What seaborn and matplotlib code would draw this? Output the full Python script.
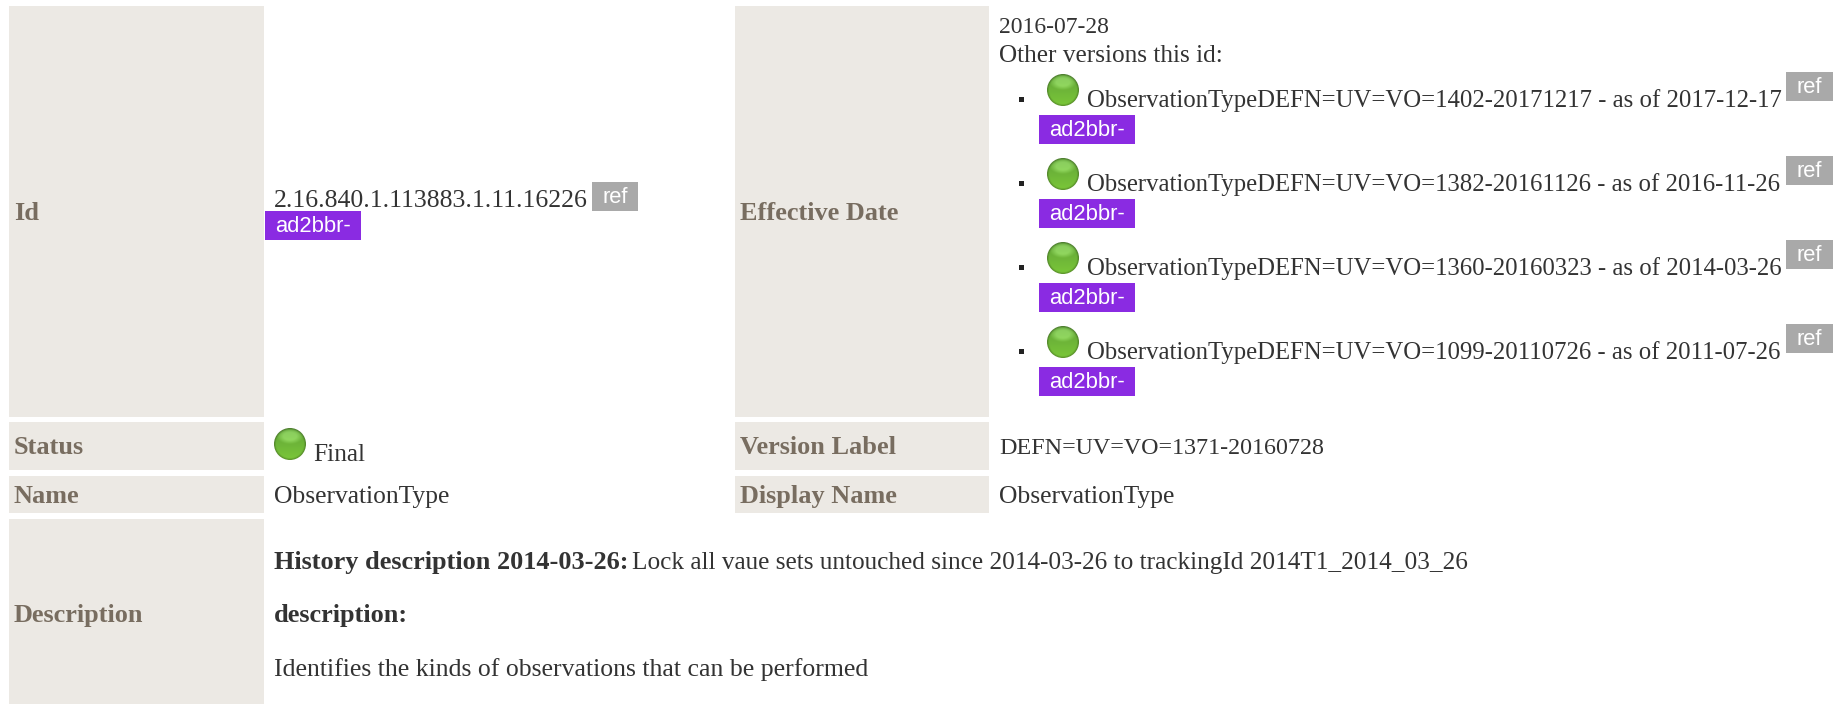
import numpy as np
import seaborn as sns
import matplotlib
matplotlib.use("Agg")
import matplotlib.pyplot as plt
from matplotlib.patches import Rectangle, Circle

sns.set_theme(style="white")
SERIF = ["Liberation Serif", "DejaVu Serif"]
plt.rcParams["font.family"] = SERIF

row_labels_left = ["Id", "Status", "Name", "Description"]
row_labels_right = ["Effective Date", "Version Label", "Display Name"]
id_value = "2.16.840.1.113883.1.11.16226"
effective_date = "2016-07-28"
other_versions_title = "Other versions this id:"
other_versions = [
    "ObservationTypeDEFN=UV=VO=1402-20171217 - as of 2017-12-17",
    "ObservationTypeDEFN=UV=VO=1382-20161126 - as of 2016-11-26",
    "ObservationTypeDEFN=UV=VO=1360-20160323 - as of 2014-03-26",
    "ObservationTypeDEFN=UV=VO=1099-20110726 - as of 2011-07-26",
]
status_value = "Final"
version_label = "DEFN=UV=VO=1371-20160728"
name_value = "ObservationType"
display_name = "ObservationType"
history_head = "History description 2014-03-26:"
history_text = "Lock all vaue sets untouched since 2014-03-26 to trackingId 2014T1_2014_03_26"
description_head = "description:"
description_text = "Identifies the kinds of observations that can be performed"

BG = "#ece9e4"; LABEL = "#786d60"; TEXT = "#333333"
GRAY = "#a9a9a9"; PURPLE = "#8a2be2"
FS = 18.3
FS_BOLD = 18.9

fig = plt.figure(figsize=(18.36, 7.04), dpi=100)
ax = fig.add_axes([0, 0, 1, 1])
ax.set_xlim(0, 1836); ax.set_ylim(704, 0); ax.axis("off")


def box(x0, y0, x1, y1, c):
    ax.add_patch(Rectangle((x0, y0), x1 - x0, y1 - y0, fc=c, ec="none", zorder=1))


def txt(x, y, s, **kw):
    kw.setdefault("fontsize", FS); kw.setdefault("color", TEXT)
    return ax.text(x, y, s, va="baseline", ha=kw.pop("ha", "left"), zorder=3, **kw)


def lab(x, y, s):
    txt(x, y, s, color=LABEL, fontweight="bold", fontsize=FS_BOLD)


def badge(x0, y0, x1, y1, s, c):
    box(x0, y0, x1, y1, c)
    ax.text((x0 + x1) / 2, y1 - 8, s, color="white", fontsize=15.8, ha="center", va="baseline",
            family="Liberation Sans", zorder=3)


yy, xx = np.mgrid[-1:1:64j, -1:1:64j]
rr = np.hypot(xx, yy)
top = np.array([0.38, 0.64, 0.22]); low = np.array([0.48, 0.78, 0.22])
t = ((yy + 1) / 2)[..., None]
img = top * (1 - t) + low * t
gloss = (np.clip(1 - np.hypot(xx / 0.85, (yy + 0.5) / 0.5), 0, 0.5) * 0.3)[..., None]
img = np.clip(img + gloss, 0, 1)
edge = np.clip((rr - 0.88) / 0.12, 0, 1)[..., None]
img = img * (1 - edge * 0.28)


def icon(cx, cy, r=16):
    im = ax.imshow(img, extent=(cx - r, cx + r, cy + r, cy - r), zorder=2, interpolation="bilinear", aspect="auto")
    im.set_clip_path(Circle((cx, cy), r, transform=ax.transData))


for y0, y1 in [(6, 417), (422, 470), (476, 513), (519, 704)]:
    box(9, y0, 264, y1, BG)
for y0, y1 in [(6, 417), (422, 470), (476, 513)]:
    box(735, y0, 989, y1, BG)

for y, s in zip([220, 454, 503, 622], row_labels_left):
    lab(14, y, s)
for y, s in zip([220, 454, 503], row_labels_right):
    lab(740, y, s)

txt(274, 207, id_value, fontsize=18.5)
badge(592, 182, 638, 211, "ref", GRAY)
badge(265, 211, 361, 240, "ad2bbr-", PURPLE)

txt(999, 33, effective_date, fontsize=17)
txt(999, 62, other_versions_title, fontsize=18.2)
for i, s in enumerate(other_versions):
    dy = 84 * i
    box(1019, 97 + dy, 1024, 102 + dy, "#222222")
    icon(1063, 90 + dy)
    txt(1087, 107 + dy, s, fontsize=17.8)
    badge(1786, 72 + dy, 1833, 101 + dy, "ref", GRAY)
    badge(1039, 115 + dy, 1135, 144 + dy, "ad2bbr-", PURPLE)

icon(290, 444)
ax.set_xlim(0, 1836); ax.set_ylim(704, 0)
txt(313, 461, status_value)
txt(999, 454, version_label, fontsize=17.3)
txt(274, 503, name_value, fontsize=18.4)
txt(999, 503, display_name, fontsize=18.4)

txt(274, 569, history_head, fontweight="bold", fontsize=FS_BOLD)
txt(632, 569, history_text, fontsize=18.2)
txt(274, 622, description_head, fontweight="bold", fontsize=FS_BOLD)
txt(274, 676, description_text, fontsize=18.5)

fig.savefig("out.png", dpi=100, facecolor="white")
